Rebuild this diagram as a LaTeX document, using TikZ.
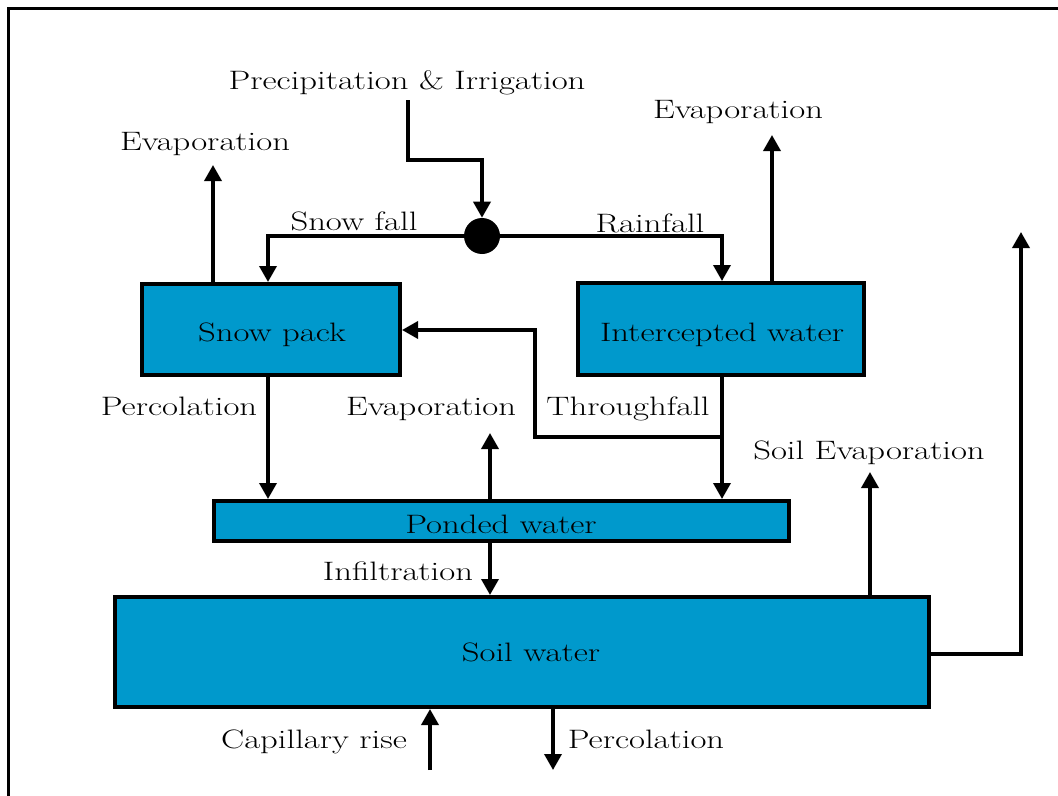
\documentclass[tikz,border=0pt]{standalone}
\usepackage{graphicx}
\usetikzlibrary{arrows.meta,fit}
\definecolor{waterblue}{RGB}{0,153,204}
% slightly widened serif lettering
\newcommand{\wtxt}[1]{\scalebox{1.3}[1]{#1}}
\begin{document}
\begin{tikzpicture}[x=0.75pt,y=-0.75pt,
  lbl/.style={inner sep=0pt,text height=13.66pt,text depth=0pt,
              font=\fontsize{20}{24}\selectfont},
  store/.style={draw=black,line width=3pt,fill=waterblue,inner sep=0pt},
  flow/.style={draw=black,line width=2.6pt},
  arr/.style={flow,-{Triangle[width=12.75pt,length=12pt]}},
  hub/.style={circle,fill=black,minimum size=27pt,inner sep=0pt}]
\useasboundingbox (0,0) rectangle (1058,796);
% frame (top and left edges)
\draw[line width=2.25pt] (1058,8.5) -- (8.5,8.5) -- (8.5,796);

% storages
\node[store,fit={(142,284) (400,375)}] (snow) {};
\node[store,fit={(578,283) (864,375)}] (icpt) {};
\node[store,fit={(214,501) (789,541)}] (pond) {};
\node[store,fit={(115,597) (929,707)}] (soil) {};
\node[lbl] (snowtxt) at (272,332) {\wtxt{Snow pack}};
\node[lbl] (icpttxt) at (722,332) {\wtxt{Intercepted water}};
\node[lbl] (pondtxt) at (501,524) {\wtxt{Ponded water}};
\node[lbl] (soiltxt) at (531,652) {\wtxt{Soil water}};

% junction of the incoming water
\node[hub] (junc) at (482,236) {};

% labels
\node[lbl] (prec) at (407,80) {\wtxt{Precipitation \& Irrigation}};
\node[lbl] (evsL) at (205,141) {\wtxt{Evaporation}};
\node[lbl] (eviL) at (738,109) {\wtxt{Evaporation}};
\node[lbl] (sfL) at (354,221) {\wtxt{Snow fall}};
\node[lbl] (rfL) at (650,223) {\wtxt{Rainfall}};
\node[lbl] (pcL) at (179,406) {\wtxt{Percolation}};
\node[lbl] (evpL) at (431,406) {\wtxt{Evaporation}};
\node[lbl] (thL) at (628,406) {\wtxt{Throughfall}};
\node[lbl] (seL) at (869,450) {\wtxt{Soil Evaporation}};
\node[lbl] (inL) at (398,571) {\wtxt{Infiltration}};
\node[lbl] (crL) at (314,739) {\wtxt{Capillary rise}};
\node[lbl] (pbL) at (646,739) {\wtxt{Percolation}};

% free ends of connectors
\coordinate (pstart) at (408,100);
\coordinate (evs) at (213,165);
\coordinate (evi) at (772,135);
\coordinate (tf) at (722,437);
\coordinate (evp) at (490,433);
\coordinate (sev) at (870,472);
\coordinate (out) at (1021,232);
\coordinate (crin) at (430,770);
\coordinate (pbout) at (553,770);

% precipitation split into snow and rain
\draw[arr] (pstart) -- (408,160) -| (junc.north);
\draw[arr] (junc.west) -| (268,0 |- snow.north);
\draw[arr] (junc.east) -| (722,0 |- icpt.north);

% evaporation from the upper storages
\draw[arr] (213,0 |- snow.north) -- (evs);
\draw[arr] (772,0 |- icpt.north) -- (evi);

% downward flows into ponded water
\draw[arr] (268,0 |- snow.south) -- (268,0 |- pond.north);
\draw[arr] (722,0 |- icpt.south) -- (722,0 |- pond.north);
\draw[arr] (tf) -- (535,437) -- (535,330) -- (snow.east |- 0,330);

% ponded water
\draw[arr] (490,0 |- pond.north) -- (evp);
\draw[arr] (490,0 |- pond.south) -- (490,0 |- soil.north);

% soil water exchanges
\draw[arr] (870,0 |- soil.north) -- (sev);
\draw[arr] (soil.east |- 0,654) -| (out);
\draw[arr] (crin) -- (430,0 |- soil.south);
\draw[arr] (553,0 |- soil.south) -- (pbout);
\end{tikzpicture}
\end{document}
